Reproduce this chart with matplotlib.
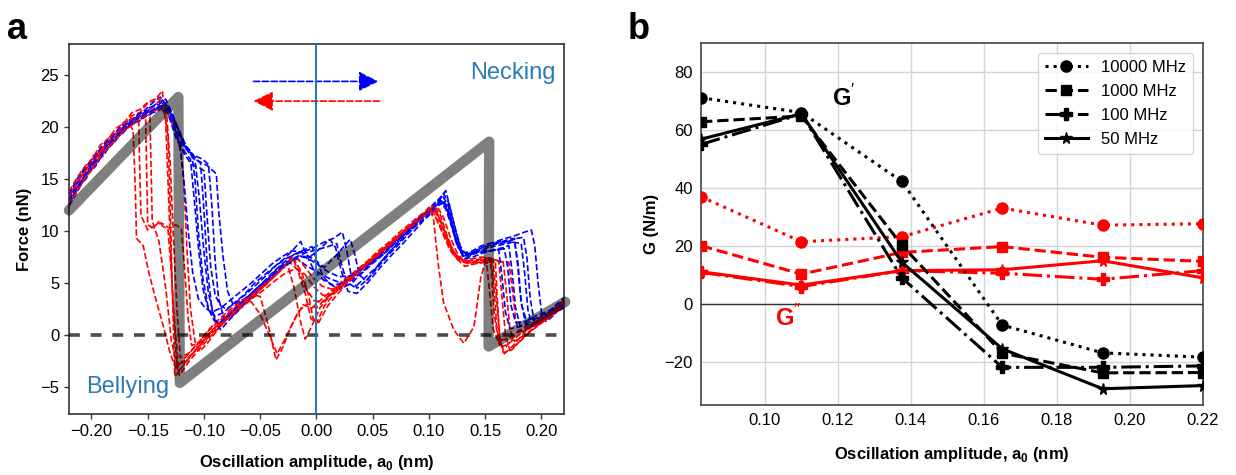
import matplotlib
matplotlib.use("Agg")
import matplotlib.pyplot as plt

plt.rcParams['font.family'] = ['Liberation Sans', 'DejaVu Sans']
plt.rcParams['mathtext.fontset'] = 'custom'
plt.rcParams['mathtext.rm'] = 'Liberation Sans'
plt.rcParams['mathtext.bf'] = 'Liberation Sans:bold'
plt.rcParams['axes.unicode_minus'] = True

# ---------------- panel a: force traces (x in nm, force in nN) ----------------
fwd_1 = [(-0.220, 13.2), (-0.212, 14.9), (-0.204, 15.6), (-0.196, 17.1), (-0.188, 17.9), (-0.180, 19.2),
         (-0.172, 19.6), (-0.164, 20.8), (-0.156, 21.1), (-0.148, 21.9), (-0.140, 22.2), (-0.134, 22.7),
         (-0.128, 21.2), (-0.121, 19.4), (-0.114, 17.6), (-0.106, 16.8), (-0.097, 16.3), (-0.089, 15.5),
         (-0.087, 12.0), (-0.083, 7.5), (-0.079, 4.2), (-0.074, 2.9), (-0.066, 3.3), (-0.058, 4.0),
         (-0.049, 4.9), (-0.040, 5.9), (-0.031, 6.8), (-0.022, 7.6), (-0.013, 8.0), (-0.004, 8.3),
         (0.006, 8.9), (0.015, 9.3), (0.023, 9.9), (0.027, 8.1), (0.031, 5.6), (0.036, 4.5), (0.046, 5.4),
         (0.056, 6.9), (0.066, 8.1), (0.076, 9.4), (0.086, 10.5), (0.096, 11.6), (0.104, 12.6), (0.110, 13.2),
         (0.115, 13.9), (0.119, 12.1), (0.124, 9.9), (0.129, 8.1), (0.135, 7.7), (0.145, 8.3), (0.155, 8.8),
         (0.165, 9.2), (0.175, 9.5), (0.185, 9.9), (0.191, 10.1), (0.194, 8.6), (0.197, 5.0), (0.200, 2.2),
         (0.204, 1.3), (0.211, 1.9), (0.220, 3.1)]
fwd_2 = [(-0.220, 12.6), (-0.213, 14.1), (-0.206, 15.3), (-0.198, 16.0), (-0.190, 17.6), (-0.182, 18.3),
         (-0.174, 19.5), (-0.166, 20.1), (-0.158, 20.7), (-0.150, 21.5), (-0.143, 21.6), (-0.136, 22.1),
         (-0.130, 21.4), (-0.123, 19.9), (-0.116, 17.9), (-0.109, 17.3), (-0.101, 16.9), (-0.096, 16.4),
         (-0.093, 12.5), (-0.090, 7.0), (-0.087, 3.5), (-0.082, 1.5), (-0.074, 1.9), (-0.065, 2.9),
         (-0.055, 3.8), (-0.046, 4.9), (-0.037, 5.7), (-0.028, 6.9), (-0.020, 7.4), (-0.010, 7.9),
         (0.000, 8.2), (0.010, 8.5), (0.018, 8.8), (0.022, 6.9), (0.027, 5.1), (0.034, 4.6), (0.044, 5.6),
         (0.054, 6.6), (0.064, 7.9), (0.074, 9.0), (0.084, 10.1), (0.094, 11.0), (0.102, 11.9), (0.108, 12.6),
         (0.113, 13.0), (0.118, 11.8), (0.124, 9.2), (0.130, 7.6), (0.138, 7.9), (0.148, 8.2), (0.158, 8.7),
         (0.168, 8.9), (0.178, 9.3), (0.184, 9.4), (0.187, 7.5), (0.190, 3.5), (0.194, 1.0), (0.200, 1.2),
         (0.210, 2.0), (0.220, 2.8)]
fwd_3 = [(-0.220, 13.4), (-0.214, 14.4), (-0.207, 15.8), (-0.200, 16.5), (-0.192, 17.8), (-0.184, 18.8),
         (-0.176, 19.4), (-0.168, 20.5), (-0.160, 20.9), (-0.152, 21.7), (-0.145, 22.4), (-0.139, 22.9),
         (-0.133, 22.0), (-0.126, 20.6), (-0.119, 18.4), (-0.113, 17.5), (-0.108, 16.8), (-0.104, 13.0),
         (-0.100, 8.0), (-0.096, 4.0), (-0.091, 1.8), (-0.087, 1.0), (-0.080, 1.6), (-0.071, 2.6),
         (-0.062, 3.5), (-0.052, 4.6), (-0.043, 5.4), (-0.034, 6.5), (-0.025, 7.1), (-0.017, 7.3),
         (-0.008, 6.6), (0.002, 6.0), (0.012, 5.4), (0.022, 5.0), (0.032, 5.3), (0.042, 6.2), (0.052, 7.2),
         (0.062, 8.0), (0.072, 9.1), (0.082, 10.1), (0.092, 11.2), (0.100, 12.0), (0.106, 12.4), (0.111, 12.9),
         (0.116, 12.2), (0.121, 10.3), (0.126, 8.4), (0.132, 7.4), (0.140, 7.8), (0.150, 8.3), (0.160, 8.6),
         (0.170, 8.8), (0.176, 9.0), (0.179, 7.0), (0.182, 3.2), (0.186, 1.0), (0.194, 1.1), (0.204, 1.8),
         (0.213, 2.3), (0.220, 3.0)]
fwd_4 = [(-0.220, 12.9), (-0.213, 14.6), (-0.205, 15.4), (-0.197, 16.8), (-0.189, 17.4), (-0.181, 18.9),
         (-0.173, 19.3), (-0.165, 20.4), (-0.157, 20.6), (-0.149, 21.3), (-0.142, 21.5), (-0.136, 21.9),
         (-0.130, 21.0), (-0.124, 19.2), (-0.117, 17.6), (-0.112, 16.9), (-0.109, 13.5), (-0.105, 8.5),
         (-0.101, 4.5), (-0.096, 2.4), (-0.090, 1.8), (-0.082, 2.2), (-0.073, 3.1), (-0.064, 3.9),
         (-0.055, 5.0), (-0.046, 5.8), (-0.037, 6.6), (-0.028, 7.3), (-0.019, 7.8), (-0.011, 8.2),
         (-0.004, 8.5), (0.001, 7.0), (0.006, 5.6), (0.012, 4.9), (0.020, 4.4), (0.030, 4.9), (0.040, 5.9),
         (0.050, 6.9), (0.060, 7.8), (0.070, 8.9), (0.080, 9.8), (0.090, 10.9), (0.098, 11.7), (0.105, 12.3),
         (0.111, 13.0), (0.116, 12.4), (0.121, 10.6), (0.126, 8.6), (0.131, 7.3), (0.139, 7.5), (0.148, 7.9),
         (0.157, 8.2), (0.166, 8.4), (0.171, 8.6), (0.174, 6.0), (0.177, 2.6), (0.181, 0.9), (0.190, 1.0),
         (0.200, 1.6), (0.210, 2.3), (0.220, 3.4)]
fwd_5 = [(-0.220, 12.4), (-0.212, 13.9), (-0.204, 15.6), (-0.196, 16.3), (-0.188, 17.8), (-0.180, 18.5),
         (-0.172, 19.6), (-0.164, 20.3), (-0.156, 20.8), (-0.148, 21.2), (-0.141, 21.9), (-0.135, 22.4),
         (-0.129, 21.5), (-0.122, 19.6), (-0.115, 18.0), (-0.108, 17.1), (-0.103, 16.5), (-0.100, 12.0),
         (-0.097, 6.5), (-0.093, 2.5), (-0.089, 1.0), (-0.085, 0.5), (-0.078, 1.4), (-0.069, 2.4),
         (-0.060, 3.5), (-0.051, 4.4), (-0.042, 5.5), (-0.033, 6.3), (-0.024, 7.1), (-0.015, 7.6),
         (-0.006, 7.5), (0.003, 8.3), (0.012, 9.2), (0.017, 8.4), (0.022, 6.2), (0.028, 4.2), (0.036, 4.0),
         (0.046, 5.1), (0.056, 6.4), (0.066, 7.6), (0.076, 8.7), (0.086, 9.9), (0.095, 11.0), (0.103, 11.8),
         (0.109, 12.5), (0.114, 12.8), (0.119, 11.0), (0.124, 9.0), (0.129, 7.9), (0.137, 8.0), (0.147, 8.6),
         (0.157, 8.9), (0.167, 9.0), (0.177, 8.9), (0.182, 8.8), (0.185, 6.0), (0.188, 2.4), (0.192, 0.8),
         (0.201, 1.3), (0.211, 2.1), (0.220, 2.6)]
fwd_6 = [(-0.220, 13.5), (-0.213, 15.0), (-0.206, 16.1), (-0.198, 17.0), (-0.190, 18.3), (-0.182, 19.0),
         (-0.174, 20.1), (-0.166, 20.4), (-0.158, 21.3), (-0.150, 21.6), (-0.143, 22.2), (-0.137, 22.6),
         (-0.131, 21.8), (-0.126, 20.0), (-0.121, 17.8), (-0.118, 15.0), (-0.114, 10.0), (-0.110, 6.0),
         (-0.105, 3.5), (-0.099, 2.6), (-0.093, 2.2), (-0.085, 2.6), (-0.076, 3.4), (-0.067, 4.2),
         (-0.058, 5.0), (-0.049, 5.9), (-0.040, 6.8), (-0.031, 7.5), (-0.022, 8.1), (-0.013, 8.0),
         (-0.003, 7.3), (0.007, 6.5), (0.017, 7.6), (0.025, 8.6), (0.030, 9.2), (0.034, 7.8), (0.038, 5.8),
         (0.044, 5.2), (0.053, 6.3), (0.063, 7.6), (0.073, 8.7), (0.083, 9.9), (0.093, 11.1), (0.101, 11.9),
         (0.107, 12.6), (0.112, 13.4), (0.117, 12.5), (0.122, 10.0), (0.127, 8.3), (0.133, 7.8), (0.142, 8.0),
         (0.152, 8.1), (0.161, 8.2), (0.167, 8.3), (0.170, 6.5), (0.173, 2.8), (0.177, 1.2), (0.186, 1.3),
         (0.196, 1.9), (0.208, 2.4), (0.220, 3.6)]
fwd_7 = [(-0.220, 12.7), (-0.212, 14.2), (-0.205, 15.0), (-0.197, 16.6), (-0.189, 17.3), (-0.181, 18.7),
         (-0.173, 19.4), (-0.165, 20.2), (-0.157, 21.0), (-0.150, 21.3), (-0.144, 21.8), (-0.138, 22.0),
         (-0.132, 21.3), (-0.125, 19.0), (-0.118, 17.5), (-0.111, 16.4), (-0.104, 16.1), (-0.100, 15.8),
         (-0.097, 11.0), (-0.094, 6.5), (-0.090, 3.8), (-0.085, 2.8), (-0.080, 2.5), (-0.072, 3.1),
         (-0.063, 3.9), (-0.054, 4.8), (-0.045, 5.7), (-0.036, 6.7), (-0.028, 7.4), (-0.020, 8.3),
         (-0.014, 9.0), (-0.008, 7.5), (-0.002, 6.2), (0.006, 5.3), (0.015, 4.8), (0.025, 5.0), (0.035, 5.8),
         (0.045, 6.7), (0.055, 7.5), (0.065, 8.5), (0.075, 9.6), (0.085, 10.6), (0.094, 11.5), (0.102, 12.1),
         (0.108, 12.9), (0.113, 13.6), (0.118, 12.6), (0.123, 10.4), (0.128, 8.5), (0.134, 7.6), (0.143, 8.2),
         (0.153, 8.6), (0.163, 8.9), (0.171, 9.2), (0.176, 9.3), (0.179, 6.5), (0.182, 3.0), (0.186, 1.6),
         (0.196, 1.5), (0.207, 2.2), (0.220, 3.3)]
fwd_8 = [(-0.220, 13.0), (-0.214, 14.0), (-0.207, 15.2), (-0.200, 16.4), (-0.193, 17.0), (-0.186, 18.4),
         (-0.179, 18.9), (-0.171, 20.0), (-0.163, 20.5), (-0.155, 21.3), (-0.148, 21.5), (-0.141, 22.0),
         (-0.135, 22.1), (-0.129, 21.0), (-0.123, 19.3), (-0.117, 18.3), (-0.111, 17.6), (-0.108, 15.0),
         (-0.105, 10.0), (-0.101, 5.5), (-0.096, 2.5), (-0.091, 1.4), (-0.086, 1.2), (-0.078, 1.9),
         (-0.069, 2.9), (-0.060, 3.8), (-0.051, 4.7), (-0.042, 5.4), (-0.033, 6.4), (-0.024, 6.9),
         (-0.016, 7.6), (-0.008, 7.4), (0.001, 6.8), (0.010, 6.1), (0.020, 5.6), (0.030, 5.7), (0.040, 6.3),
         (0.050, 7.1), (0.060, 8.1), (0.070, 9.0), (0.080, 10.0), (0.090, 11.0), (0.098, 11.8), (0.105, 12.5),
         (0.110, 12.8), (0.115, 12.1), (0.120, 10.5), (0.125, 8.6), (0.131, 7.6), (0.139, 7.8), (0.148, 8.0),
         (0.156, 8.1), (0.162, 8.2), (0.165, 5.5), (0.168, 2.2), (0.172, 0.6), (0.181, 0.8), (0.192, 1.4),
         (0.204, 2.1), (0.213, 2.5), (0.220, 3.0)]

rev_1 = [(-0.220, 13.1), (-0.213, 14.5), (-0.206, 15.9), (-0.199, 16.6), (-0.192, 17.9), (-0.185, 18.4),
         (-0.178, 19.4), (-0.171, 19.8), (-0.166, 20.2), (-0.163, 19.7), (-0.161, 14.0), (-0.160, 9.3),
         (-0.154, 8.6), (-0.149, 6.0), (-0.143, 3.5), (-0.136, 0.8), (-0.130, -1.8), (-0.125, -3.2),
         (-0.116, -2.1), (-0.106, -0.9), (-0.096, 0.4), (-0.086, 1.4), (-0.076, 2.3), (-0.066, 3.2),
         (-0.057, 3.9), (-0.050, 3.7), (-0.043, 1.0), (-0.036, -2.4), (-0.030, -1.2), (-0.023, 0.7),
         (-0.016, 2.3), (-0.008, 3.0), (0.000, 2.6), (0.009, 3.6), (0.018, 4.5), (0.028, 5.4), (0.038, 6.4),
         (0.048, 7.3), (0.058, 8.2), (0.068, 9.1), (0.078, 10.0), (0.088, 11.0), (0.096, 11.8), (0.100, 12.3),
         (0.104, 11.2), (0.108, 7.0), (0.113, 3.1), (0.122, 0.5), (0.131, -0.8), (0.140, 0.8), (0.146, 5.5),
         (0.150, 7.0), (0.155, 6.8), (0.158, 2.0), (0.162, -0.8), (0.168, -1.2), (0.178, 0.2), (0.190, 0.8),
         (0.200, 1.5), (0.210, 2.2), (0.220, 3.0)]
rev_2 = [(-0.220, 12.6), (-0.212, 14.3), (-0.204, 15.5), (-0.196, 17.0), (-0.188, 18.0), (-0.180, 19.3),
         (-0.172, 20.0), (-0.164, 21.1), (-0.157, 21.4), (-0.150, 22.3), (-0.143, 22.7), (-0.137, 23.5),
         (-0.134, 20.5), (-0.131, 12.0), (-0.128, 4.0), (-0.125, -1.5), (-0.123, -3.6), (-0.115, -2.4),
         (-0.105, -1.1), (-0.095, 0.2), (-0.085, 1.3), (-0.075, 2.3), (-0.065, 3.3), (-0.055, 4.1),
         (-0.045, 5.0), (-0.035, 6.0), (-0.026, 6.9), (-0.020, 4.6), (-0.014, 1.2), (-0.010, -0.4),
         (-0.004, 0.9), (0.003, 2.6), (0.012, 3.8), (0.022, 4.7), (0.032, 5.6), (0.042, 6.6), (0.052, 7.5),
         (0.062, 8.5), (0.072, 9.4), (0.082, 10.4), (0.091, 11.2), (0.099, 12.0), (0.105, 11.6), (0.112, 9.8),
         (0.119, 8.1), (0.126, 7.2), (0.134, 6.9), (0.143, 7.1), (0.151, 7.3), (0.157, 7.0), (0.160, 3.5),
         (0.163, -0.3), (0.167, -1.8), (0.175, -1.0), (0.186, 0.4), (0.197, 1.3), (0.208, 2.1), (0.220, 3.2)]
rev_3 = [(-0.220, 13.6), (-0.213, 14.8), (-0.206, 15.6), (-0.199, 17.2), (-0.192, 17.7), (-0.185, 19.0),
         (-0.178, 19.5), (-0.171, 20.5), (-0.164, 20.8), (-0.157, 21.3), (-0.152, 21.5), (-0.151, 16.0),
         (-0.150, 10.6), (-0.145, 10.3), (-0.140, 10.9), (-0.136, 10.4), (-0.132, 10.2), (-0.129, 6.0),
         (-0.126, 1.0), (-0.122, -3.9), (-0.113, -2.5), (-0.103, -1.2), (-0.093, 0.0), (-0.083, 1.1),
         (-0.073, 2.2), (-0.063, 3.1), (-0.053, 4.0), (-0.044, 5.0), (-0.035, 5.9), (-0.027, 6.8),
         (-0.020, 7.3), (-0.013, 6.0), (-0.007, 3.8), (-0.003, 1.6), (0.002, 1.2), (0.010, 2.8), (0.020, 4.1),
         (0.030, 5.2), (0.040, 6.3), (0.050, 7.2), (0.060, 8.2), (0.070, 9.2), (0.080, 10.1), (0.089, 11.0),
         (0.097, 11.6), (0.103, 12.2), (0.109, 11.4), (0.116, 9.4), (0.123, 7.8), (0.131, 7.1), (0.140, 7.2),
         (0.150, 7.4), (0.160, 7.2), (0.166, 7.0), (0.169, 4.0), (0.172, 0.5), (0.176, -0.6), (0.185, 0.0),
         (0.196, 0.9), (0.208, 1.9), (0.220, 2.7)]
rev_4 = [(-0.220, 12.9), (-0.212, 14.4), (-0.205, 15.3), (-0.197, 16.7), (-0.189, 17.6), (-0.181, 18.6),
         (-0.173, 19.6), (-0.165, 20.3), (-0.157, 21.1), (-0.150, 21.5), (-0.144, 22.1), (-0.139, 22.6),
         (-0.133, 21.6), (-0.127, 20.0), (-0.121, 18.4), (-0.118, 15.0), (-0.115, 8.0), (-0.112, 2.5),
         (-0.108, -0.6), (-0.104, -1.6), (-0.097, -0.8), (-0.088, 0.5), (-0.079, 1.6), (-0.069, 2.6),
         (-0.059, 3.6), (-0.049, 4.5), (-0.040, 5.4), (-0.031, 6.3), (-0.023, 7.1), (-0.017, 7.4),
         (-0.010, 6.5), (-0.003, 5.5), (0.005, 4.7), (0.014, 4.4), (0.024, 5.0), (0.034, 5.9), (0.044, 6.9),
         (0.054, 7.8), (0.064, 8.7), (0.074, 9.7), (0.084, 10.6), (0.093, 11.5), (0.101, 12.1), (0.107, 12.4),
         (0.113, 11.3), (0.119, 9.4), (0.125, 7.9), (0.132, 7.0), (0.141, 6.9), (0.149, 7.1), (0.155, 7.2),
         (0.158, 4.5), (0.160, 1.0), (0.163, -1.2), (0.170, -0.9), (0.180, 0.0), (0.192, 0.9), (0.205, 1.8),
         (0.220, 3.4)]
rev_5 = [(-0.220, 13.3), (-0.213, 14.7), (-0.206, 15.7), (-0.199, 16.9), (-0.192, 17.5), (-0.185, 18.7),
         (-0.178, 19.2), (-0.171, 20.1), (-0.164, 20.6), (-0.157, 21.0), (-0.150, 21.4), (-0.144, 21.6),
         (-0.138, 21.8), (-0.133, 21.0), (-0.130, 16.5), (-0.127, 9.0), (-0.124, 2.5), (-0.121, -2.2),
         (-0.113, -1.7), (-0.104, -0.6), (-0.095, 0.6), (-0.086, 1.6), (-0.076, 2.5), (-0.066, 3.4),
         (-0.058, 3.2), (-0.050, 2.0), (-0.042, 0.0), (-0.035, -1.8), (-0.028, -0.4), (-0.020, 1.4),
         (-0.012, 2.9), (-0.004, 2.6), (0.004, 3.4), (0.014, 4.3), (0.024, 5.3), (0.034, 6.1), (0.044, 7.0),
         (0.054, 8.0), (0.064, 8.9), (0.074, 9.9), (0.084, 10.8), (0.093, 11.6), (0.100, 12.0), (0.106, 11.8),
         (0.112, 10.5), (0.118, 8.7), (0.124, 7.4), (0.132, 6.6), (0.142, 6.9), (0.152, 7.0), (0.162, 7.1),
         (0.171, 7.0), (0.174, 4.5), (0.177, 1.5), (0.180, 0.3), (0.189, 0.6), (0.200, 1.3), (0.210, 2.1),
         (0.220, 2.9)]
rev_6 = [(-0.220, 12.8), (-0.212, 14.0), (-0.205, 15.2), (-0.198, 16.2), (-0.191, 17.4), (-0.184, 18.2),
         (-0.177, 19.0), (-0.170, 19.8), (-0.163, 20.3), (-0.158, 20.5), (-0.157, 15.5), (-0.156, 11.5),
         (-0.150, 10.1), (-0.144, 10.5), (-0.138, 10.8), (-0.131, 10.3), (-0.125, 10.6), (-0.120, 10.2),
         (-0.117, 6.0), (-0.114, 1.5), (-0.111, -1.0), (-0.104, -0.8), (-0.095, 0.2), (-0.085, 1.2),
         (-0.075, 2.1), (-0.065, 3.1), (-0.055, 4.0), (-0.045, 4.8), (-0.036, 5.8), (-0.028, 6.6),
         (-0.022, 7.5), (-0.016, 6.2), (-0.010, 4.6), (-0.002, 3.3), (0.006, 3.2), (0.016, 4.2), (0.026, 5.2),
         (0.036, 6.1), (0.046, 7.0), (0.056, 7.9), (0.066, 8.9), (0.076, 9.8), (0.086, 10.8), (0.094, 11.5),
         (0.101, 12.0), (0.108, 11.0), (0.115, 9.2), (0.121, 7.9), (0.128, 7.1), (0.137, 7.3), (0.146, 7.5),
         (0.155, 7.4), (0.162, 7.1), (0.165, 3.5), (0.168, 0.0), (0.172, -1.5), (0.180, -0.7), (0.191, 0.4),
         (0.203, 1.4), (0.213, 2.2), (0.220, 3.1)]
rev_7 = [(-0.220, 13.8), (-0.213, 15.1), (-0.206, 16.2), (-0.199, 17.0), (-0.192, 18.3), (-0.185, 18.9),
         (-0.178, 19.9), (-0.171, 20.4), (-0.164, 21.4), (-0.157, 21.7), (-0.150, 22.4), (-0.145, 22.6),
         (-0.141, 22.9), (-0.136, 22.1), (-0.132, 19.0), (-0.130, 12.5), (-0.128, 4.0), (-0.126, -4.0),
         (-0.118, -2.9), (-0.109, -1.7), (-0.100, -0.5), (-0.090, 0.7), (-0.080, 1.8), (-0.070, 2.8),
         (-0.060, 3.6), (-0.050, 4.6), (-0.040, 5.5), (-0.031, 6.4), (-0.024, 7.0), (-0.017, 6.3),
         (-0.010, 4.0), (-0.005, 1.6), (0.000, 1.1), (0.007, 2.8), (0.016, 4.0), (0.026, 5.0), (0.036, 6.0),
         (0.046, 6.9), (0.056, 7.8), (0.066, 8.8), (0.076, 9.8), (0.086, 10.7), (0.094, 11.4), (0.101, 12.1),
         (0.107, 11.9), (0.113, 10.0), (0.120, 8.3), (0.128, 7.3), (0.137, 7.0), (0.145, 7.2), (0.151, 7.1),
         (0.154, 4.0), (0.157, 0.6), (0.161, -0.5), (0.170, -0.4), (0.181, 0.5), (0.193, 1.2), (0.206, 2.0),
         (0.220, 3.3)]
rev_8 = [(-0.220, 12.5), (-0.213, 13.8), (-0.206, 15.0), (-0.199, 16.1), (-0.192, 17.2), (-0.185, 18.0),
         (-0.178, 18.9), (-0.171, 19.7), (-0.164, 20.2), (-0.157, 20.8), (-0.151, 21.1), (-0.148, 21.0),
         (-0.147, 16.0), (-0.146, 11.0), (-0.140, 9.0), (-0.134, 4.5), (-0.129, -0.5), (-0.124, -3.0),
         (-0.116, -2.4), (-0.106, -1.3), (-0.096, -0.2), (-0.086, 0.9), (-0.076, 1.9), (-0.066, 2.7),
         (-0.056, 3.6), (-0.046, 4.4), (-0.036, 5.3), (-0.027, 6.0), (-0.018, 6.4), (-0.010, 5.8),
         (-0.002, 4.6), (0.006, 3.8), (0.015, 4.0), (0.025, 4.9), (0.035, 5.8), (0.045, 6.8), (0.055, 7.7),
         (0.065, 8.6), (0.075, 9.6), (0.085, 10.5), (0.093, 11.2), (0.099, 11.8), (0.104, 12.5), (0.110, 11.6),
         (0.116, 9.6), (0.122, 8.0), (0.129, 7.2), (0.138, 6.8), (0.147, 7.0), (0.154, 7.3), (0.159, 7.0),
         (0.161, 3.0), (0.163, -0.5), (0.166, -1.7), (0.174, -1.4), (0.184, -0.2), (0.195, 0.8), (0.207, 1.7),
         (0.220, 2.8)]

forward_sweeps = [fwd_1, fwd_2, fwd_3, fwd_4, fwd_5, fwd_6, fwd_7, fwd_8]
reverse_sweeps = [rev_1, rev_2, rev_3, rev_4, rev_5, rev_6, rev_7, rev_8]

# idealised sawtooth model (x in nm, force in nN)
model_x = [-0.220, -0.1228, -0.1215, 0.1535, 0.1530, 0.2210]
model_f = [12.0, 22.9, -4.6, 18.6, -1.1, 3.2]

# ---------------- panel b: storage / loss moduli ----------------
amp = [0.0825, 0.110, 0.1375, 0.165, 0.1925, 0.220]
gp_10000 = [71.1, 66.0, 42.2, -7.4, -17.0, -18.5]
gp_1000 = [62.8, 64.8, 20.2, -17.1, -23.9, -23.8]
gp_100 = [55.0, 65.5, 8.9, -22.0, -22.0, -21.5]
gp_50 = [56.8, 65.6, 14.3, -15.6, -29.4, -28.3]
gpp_10000 = [36.9, 21.4, 23.1, 33.0, 27.1, 27.6]
gpp_1000 = [20.0, 10.2, 17.7, 19.7, 16.0, 14.6]
gpp_100 = [10.8, 5.9, 11.4, 10.5, 8.4, 11.4]
gpp_50 = [11.0, 6.4, 11.4, 11.7, 14.8, 8.9]
freq_labels = ['10000 MHz', '1000 MHz', '100 MHz', '50 MHz']

fig = plt.figure(figsize=(12.36, 4.75), dpi=100)

# ============ panel a ============
ax = fig.add_axes([0.0558, 0.1284, 0.4005, 0.779])
for fw, rv in zip(forward_sweeps, reverse_sweeps):
    ax.plot([p[0] for p in fw], [p[1] for p in fw], color='#0000ff', ls='--', lw=1.2, zorder=2)
    ax.plot([p[0] for p in rv], [p[1] for p in rv], color='#ff0000', ls='--', lw=1.2, zorder=2)

ax.plot(model_x, model_f, color='black', alpha=0.5, lw=7.5, solid_capstyle='round',
        solid_joinstyle='round', zorder=3, clip_on=False)
ax.axhline(0, color='black', alpha=0.7, lw=2.6, ls=(0, (3, 3)), zorder=4)
ax.axvline(0, color='#1f77b4', lw=1.4, zorder=4)

ax.annotate('', xy=(0.055, 24.4), xytext=(-0.056, 24.4),
            arrowprops=dict(arrowstyle='-|>,head_length=0.6,head_width=0.3', color='#0000ff',
                            lw=1.2, ls='--', mutation_scale=20, shrinkA=0, shrinkB=0))
ax.annotate('', xy=(-0.056, 22.5), xytext=(0.056, 22.5),
            arrowprops=dict(arrowstyle='-|>,head_length=0.6,head_width=0.3', color='#ff0000',
                            lw=1.2, ls='--', mutation_scale=20, shrinkA=0, shrinkB=0))

ax.text(0.2125, 25.2, 'Necking', color='#2a7ab8', fontsize=17, ha='right', va='center')
ax.text(-0.205, -5.0, 'Bellying', color='#2a7ab8', fontsize=17, ha='left', va='center')

ax.set_xlim(-0.22, 0.22)
ax.set_ylim(-7.6, 28)
ax.set_xticks([-0.20, -0.15, -0.10, -0.05, 0.00, 0.05, 0.10, 0.15, 0.20])
ax.set_xticklabels(['\u22120.20', '\u22120.15', '\u22120.10', '\u22120.05', '0.00', '0.05', '0.10',
                    '0.15', '0.20'])
ax.set_yticks([-5, 0, 5, 10, 15, 20, 25])
ax.set_yticklabels(['\u22125', '0', '5', '10', '15', '20', '25'])
ax.tick_params(labelsize=12, length=3.5, width=1, color='#333333')
for s in ax.spines.values():
    s.set_color('#333333')
    s.set_linewidth(1.2)
ax.set_xlabel('Oscillation amplitude, a$_{\\mathregular{0}}$ (nm)', fontsize=12, fontweight='bold',
              labelpad=10)
ax.set_ylabel('Force (nN)', fontsize=12, fontweight='bold', labelpad=6)
fig.text(0.006, 0.975, 'a', fontsize=26, fontweight='bold', ha='left', va='top')

# ============ panel b ============
bx = fig.add_axes([0.5672, 0.1474, 0.4061, 0.762])
bx.grid(True, color='#d4d4d4', lw=1.0, zorder=0)
bx.set_axisbelow(True)
bx.axhline(0, color='#333333', lw=1.0, zorder=1)

styles = [(':', 'o', 8), ('--', 's', 7.5), ('-.', 'P', 8.5), ('-', '*', 8.5)]
gpp_sets = [gpp_10000, gpp_1000, gpp_100, gpp_50]
gp_sets = [gp_10000, gp_1000, gp_100, gp_50]
for vals, (ls, mk, ms) in zip(gpp_sets, styles):
    bx.plot(amp, vals, color='#ff0000', ls=ls, marker=mk, ms=ms, lw=2.2, zorder=3)
handles = []
for vals, (ls, mk, ms), lab in zip(gp_sets, styles, freq_labels):
    h, = bx.plot(amp, vals, color='black', ls=ls, marker=mk, ms=ms, lw=2.2, zorder=4, label=lab)
    handles.append(h)

bx.text(0.1215, 71, "G$^{\\prime}$", fontsize=17, fontweight='bold', color='black', ha='center',
        va='center')
bx.text(0.1065, -4.8, "G$^{\\prime\\prime}$", fontsize=17, fontweight='bold', color='#ff0000',
        ha='center', va='center')

leg = bx.legend(handles=handles, loc='upper right', fontsize=12, handlelength=2.6,
                borderaxespad=0.6, labelspacing=0.55, framealpha=0.8, edgecolor='#cccccc')

bx.set_xlim(0.0825, 0.22)
bx.set_ylim(-35, 90)
bx.set_xticks([0.10, 0.12, 0.14, 0.16, 0.18, 0.20, 0.22])
bx.set_xticklabels(['0.10', '0.12', '0.14', '0.16', '0.18', '0.20', '0.22'])
bx.set_yticks([-20, 0, 20, 40, 60, 80])
bx.set_yticklabels(['\u221220', '0', '20', '40', '60', '80'])
bx.tick_params(labelsize=12, length=0, pad=6)
for s in bx.spines.values():
    s.set_color('#444444')
    s.set_linewidth(1.2)
bx.set_xlabel('Oscillation amplitude, a$_{\\mathregular{0}}$ (nm)', fontsize=12, fontweight='bold',
              labelpad=12)
bx.set_ylabel('G (N/m)', fontsize=12, fontweight='bold', labelpad=4)
fig.text(0.508, 0.975, 'b', fontsize=26, fontweight='bold', ha='left', va='top')

fig.savefig('out.png', dpi=100)
